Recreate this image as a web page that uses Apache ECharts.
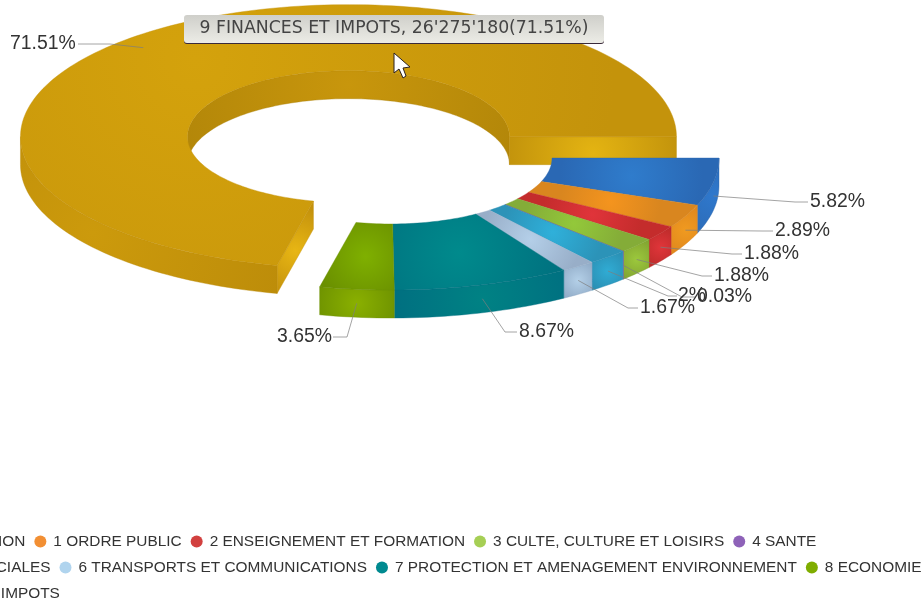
<!DOCTYPE html>
<html><head><meta charset="utf-8">
<style>html,body{margin:0;padding:0;background:#fff;overflow:hidden}#c{width:923px;height:600px}</style>
<script src="https://cdn.jsdelivr.net/npm/echarts@6/dist/echarts.min.js"></script>
</head><body><div id="c"></div>
<script>
const categories = ['0 ADMINISTRATION','1 ORDRE PUBLIC','2 ENSEIGNEMENT ET FORMATION','3 CULTE, CULTURE ET LOISIRS','4 SANTE','5 AFFAIRES SOCIALES','6 TRANSPORTS ET COMMUNICATIONS','7 PROTECTION ET AMENAGEMENT ENVIRONNEMENT','8 ECONOMIE','9 FINANCES ET IMPOTS'];
const shares = [5.82,2.89,1.88,1.88,0.03,2,1.67,8.67,3.65,71.51];
const shareLabels = ['5.82%','2.89%','1.88%','1.88%','0.03%','2%','1.67%','8.67%','3.65%','71.51%'];
const tooltipText = "9 FINANCES ET IMPOTS, 26'275'180(71.51%)";

// styling
const legendColors = ['#2f7ed8','#f28f33','#d2403f','#a6cf55','#8e62b8','#2fa8d4','#b0d4ee','#008a90','#7fad00','#d4a20c'];
const topColors = [['#2f7ccc','#2a68b4'],['#f4941e','#d9861f'],['#e0343a','#c42c2c'],['#93c83a','#84ac38'],['#8e62b8','#7a50a0'],['#2fb0da','#2c93b8'],['#b4cfe8','#98aec8'],['#008a8c','#00707f'],['#7fb000','#6a8f00'],['#d4a20c','#c4930b']];
const wallColors = [['#2f78cc','#2a62a8'],['#f09a20','#d9801c'],['#e0353a','#b82a28'],['#9cc83c','#7fa030'],['#8e62b8','#7a50a0'],['#30acd4','#2a8cb0'],['#b4d0e8','#8ca6c2'],['#008284','#006c80'],['#8ab000','#6c9000'],['#cc9a0c','#bb8b09']];
const leaderSpots = [[795,202,808,810],[762,231,773,775],[732,254,742,744],[702,276,712,714],[682,297,696,697],[668,296,677,678],[628,308,638,640],[505,332,517,519],[347,337,333,277],[110,44,78,10]];

const CX = 391, CY = 158, RX = 328, RY = 132, IRX = 161, IRY = 66, H = 28, EXPLODE = 68;
const EXPLODED = 9;
const rad = d => d * Math.PI / 180;

function radial(x, y, r, c) {
  return {type:'radial', x, y, r, global:true, colorStops:[{offset:0,color:c[0]},{offset:1,color:c[1]}]};
}
function arc(cx, cy, rx, ry, a0, a1, dy) {
  const pts = [], n = Math.max(2, Math.ceil(Math.abs(a1 - a0) / 1.5));
  for (let i = 0; i <= n; i++) {
    const a = rad(a0 + (a1 - a0) * i / n);
    pts.push([cx + rx * Math.cos(a), cy + ry * Math.sin(a) + (dy || 0)]);
  }
  return pts;
}
function wall(cx, cy, rx, ry, a0, a1) {
  return arc(cx, cy, rx, ry, a0, a1).concat(arc(cx, cy, rx, ry, a0, a1, H).reverse());
}
function poly(points, fill, z2) {
  return {type:'polygon', shape:{points}, z2: z2 || 0, style:{fill, stroke:fill.colorStops ? fill.colorStops[1].color : fill, lineWidth:0.4}};
}
const cumulative = i => shares.slice(0, i).reduce((a, b) => a + b, 0);

function renderSlice(i) {
  return function (params, api) {
    const value = api.value(0);
    const a0 = cumulative(i) * 3.6, a1 = (cumulative(i) + value) * 3.6, mid = (a0 + a1) / 2;
    let cx = CX, cy = CY;
    if (i === EXPLODED) {
      cx += EXPLODE * Math.cos(rad(mid));
      cy += EXPLODE * Math.sin(rad(mid)) * RY / RX;
    }
    const kids = [];
    const big = i === EXPLODED;
    // inner wall, back half
    const i0 = Math.max(a0, 180), i1 = a1;
    if (i1 > i0) {
      const ia = (i0 + i1) / 2;
      kids.push(poly(wall(cx, cy, IRX, IRY, i0, i1),
        radial(cx + IRX * Math.cos(rad(ia)) * .3, cy + IRY * Math.sin(rad(ia)) + H / 2, 240, ['#c8960c', '#ab8108'])));
    }
    // caps facing the viewer
    if (big) {
      const p = (r, ry, a) => [cx + r * Math.cos(rad(a)), cy + ry * Math.sin(rad(a))];
      const quad = a => {
        const o = p(RX, RY, a), n = p(IRX, IRY, a);
        return [n, o, [o[0], o[1] + H], [n[0], n[1] + H]];
      };
      const q1 = quad(a1), q0 = quad(a0);
      kids.push(poly(q1, radial(cx + (RX + IRX) / 2, cy + H * .6, 110, ['#e4b412', '#b98a0a'])));
      kids.push(poly(q0, radial(q0[0][0] - 18, q0[0][1] + 50, 45, ['#e8b614', '#c4920c'])));
    }
    // outer wall, front half
    const o0 = a0, o1 = Math.min(a1, 180);
    if (o1 > o0) {
      const oa = (o0 + o1) / 2;
      const wx = cx + RX * Math.cos(rad(oa)), wy = cy + RY * Math.sin(rad(oa)) + H / 2;
      kids.push(poly(wall(cx, cy, RX, RY, o0, o1), radial(wx, wy, big ? 220 : Math.max(24, (o1 - o0) * 3.4), wallColors[i])));
    }
    // top face
    const ma = rad(mid), mr = (RX + IRX) / 2, mry = (RY + IRY) / 2;
    const outline = arc(cx, cy, RX, RY, a0, a1).concat(arc(cx, cy, IRX, IRY, a0, a1).reverse());
    kids.push(poly(outline, radial(cx + mr * Math.cos(ma), cy + mry * Math.sin(ma), big ? 420 : Math.max(50, (a1 - a0) * 3.4), topColors[i])));
    // leader and label
    const ax = cx + RX * Math.cos(ma), ay = cy + RY * Math.sin(ma) + H / 2;
    const s = leaderSpots[i];
    kids.push({type:'polyline', z2:50, shape:{points:[[ax, ay], [s[0], s[1]], [s[2], s[1]]]},
      style:{fill:null, stroke:'rgba(125,125,125,.7)', lineWidth:1}});
    kids.push({type:'text', z2:60, style:{text:shareLabels[i], x:s[3], y:s[1], fill:'#333', textVerticalAlign:'middle', textAlign:'left',
      font:'19.4px "Liberation Sans", Arial, sans-serif'}});
    return {type:'group', children:kids};
  };
}

const chart = echarts.init(document.getElementById('c'), null, {renderer:'canvas'});
chart.setOption({
  animation:false,
  color:legendColors,
  legend:{
    data:categories, left:-137, top:533, width:1068, padding:0, itemGap:9,
    itemWidth:12, itemHeight:12, icon:'circle', selectedMode:false,
    textStyle:{fontFamily:'"Liberation Sans", Arial, sans-serif', fontSize:15.4, color:'#333', lineHeight:17, padding:[0,0,0,2]}
  },
  graphic:[
    {type:'rect', z:100, shape:{x:184,y:17,width:420,height:27,r:3}, style:{fill:'#3a2a3a'}},
    {type:'rect', z:101, shape:{x:184,y:15,width:420,height:28,r:3}, style:{fill:{type:'linear',x:0,y:0,x2:0,y2:1,colorStops:[{offset:0,color:'#cfcfca'},{offset:1,color:'#ecece6'}]}}},
    {type:'text', z:102, style:{text:tooltipText, x:394, y:29, textAlign:'center', textVerticalAlign:'middle', fill:'#444', font:'17.3px "DejaVu Sans", Verdana, sans-serif'}},
    {type:'polygon', z:103, shape:{points:[[394,53],[394,73],[399,69],[403,78],[406,76],[403,68],[410,67]]}, style:{fill:'#fff', stroke:'#2a2020', lineWidth:1}}
  ],
  series:categories.map((name, i) => ({
    type:'custom', name, coordinateSystem:'none', silent:true, z:i === EXPLODED ? 1 : 2,
    data:[[shares[i]]], encode:{value:0}, renderItem:renderSlice(i)
  }))
});
</script></body></html>
